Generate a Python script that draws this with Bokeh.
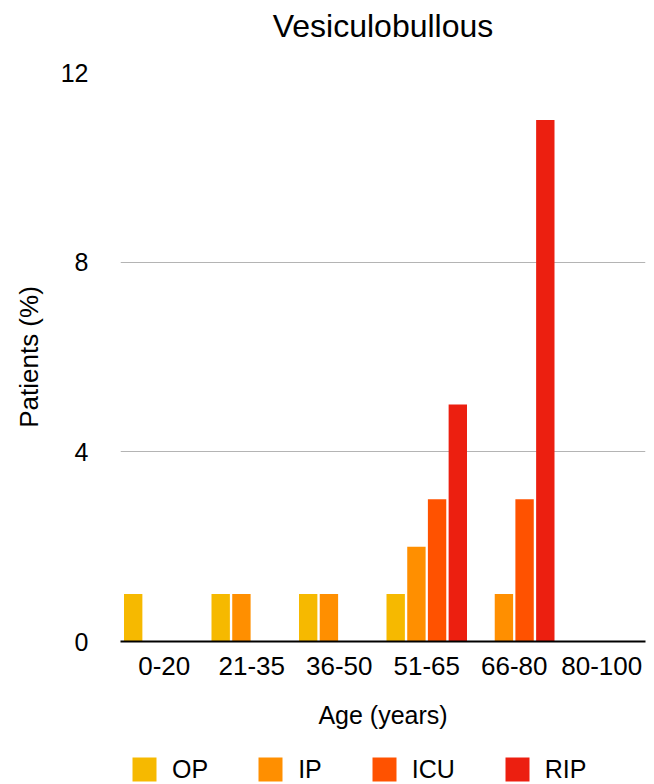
from bokeh.plotting import figure
from bokeh.models import ColumnDataSource, FixedTicker, Legend, LegendItem, Range1d, Title
from bokeh.layouts import column
from bokeh.transform import dodge
from bokeh.embed import file_html
from bokeh.resources import INLINE

ages = ["0-20", "21-35", "36-50", "51-65", "66-80", "80-100"]
op = [1, 1, 1, 1, 0, 0]
ip = [0, 1, 1, 2, 1, 0]
icu = [0, 0, 0, 3, 3, 0]
rip = [0, 0, 0, 5, 11, 0]
series = ["OP", "IP", "ICU", "RIP"]
colors = ["#F6B900", "#FF8F00", "#FF5200", "#EC1F10"]
y_ticks = [0, 4, 8, 12]

FONT = "Liberation Sans"

src = ColumnDataSource(dict(age=ages, OP=op, IP=ip, ICU=icu, RIP=rip))

p = figure(x_range=ages, y_range=Range1d(0, 12), width=654, height=745,
           output_backend="svg", toolbar_location=None, title=None,
           min_border_left=120, min_border_right=9, min_border_top=72, min_border_bottom=104)

# spacer between title and frame
p.add_layout(Title(text=" ", text_font_size="1px", standoff=22), "above")
p.add_layout(Title(text="Vesiculobullous", align="center", text_font=FONT,
                   text_font_size="32px", text_font_style="normal",
                   text_color="black", standoff=8), "above")

p.x_range.range_padding = 0
p.outline_line_color = None

offsets = [-0.355, -0.118, 0.118, 0.355]
for s, c, off in zip(series, colors, offsets):
    p.vbar(x=dodge("age", off, range=p.x_range), top=s, width=0.21, source=src,
           fill_color=c, line_color=None)

# axes
p.yaxis.ticker = FixedTicker(ticks=y_ticks)
p.yaxis.axis_line_color = None
p.yaxis.major_tick_line_color = None
p.yaxis.minor_tick_line_color = None
p.yaxis.major_label_text_font = FONT
p.yaxis.major_label_text_font_size = "25px"
p.yaxis.major_label_text_color = "black"
p.yaxis.major_label_standoff = 26
p.yaxis.axis_label = "Patients (%)"
p.yaxis.axis_label_text_font = FONT
p.yaxis.axis_label_text_font_size = "26px"
p.yaxis.axis_label_text_font_style = "normal"
p.yaxis.axis_label_text_color = "black"
p.yaxis.axis_label_standoff = 14

p.xaxis.axis_line_color = "black"
p.xaxis.axis_line_width = 2
p.xaxis.major_tick_line_color = None
p.xaxis.minor_tick_line_color = None
p.xaxis.major_label_text_font = FONT
p.xaxis.major_label_text_font_size = "26px"
p.xaxis.major_label_text_color = "black"
p.xaxis.major_label_standoff = 9
p.xaxis.axis_label = "Age (years)"
p.xaxis.axis_label_text_font = FONT
p.xaxis.axis_label_text_font_size = "25px"
p.xaxis.axis_label_text_font_style = "normal"
p.xaxis.axis_label_text_color = "black"
p.xaxis.axis_label_standoff = 23

p.xgrid.grid_line_color = None
p.ygrid.grid_line_color = "#B4B4B4"
p.ygrid.grid_line_width = 1

# legend strip below the chart (its bars lie outside its visible y range)
lg = figure(width=654, height=39, output_backend="svg", toolbar_location=None,
            x_range=p.x_range, y_range=Range1d(100, 101),
            x_axis_location=None, y_axis_location=None,
            min_border_left=120, min_border_right=9, min_border_top=0, min_border_bottom=0)
lg.grid.visible = False
lg.outline_line_color = None
items = []
for s, c, off in zip(series, colors, offsets):
    r = lg.vbar(x=dodge("age", off, range=lg.x_range), top=s, width=0.21, source=src,
                fill_color=c, line_color=None)
    items.append(LegendItem(label=s, renderers=[r]))

legend = Legend(items=items, orientation="horizontal", location=(9, 0))
legend.glyph_width = 30
legend.glyph_height = 30
legend.label_standoff = 13
legend.spacing = 47
legend.padding = 0
legend.margin = 0
legend.border_line_color = None
legend.background_fill_alpha = 0
legend.label_text_font = FONT
legend.label_text_font_size = "25px"
legend.label_text_color = "black"
legend.label_height = 30
lg.add_layout(legend, "center")

layout = column(p, lg, spacing=0)
open("out.html", "w").write(file_html(layout, INLINE))
